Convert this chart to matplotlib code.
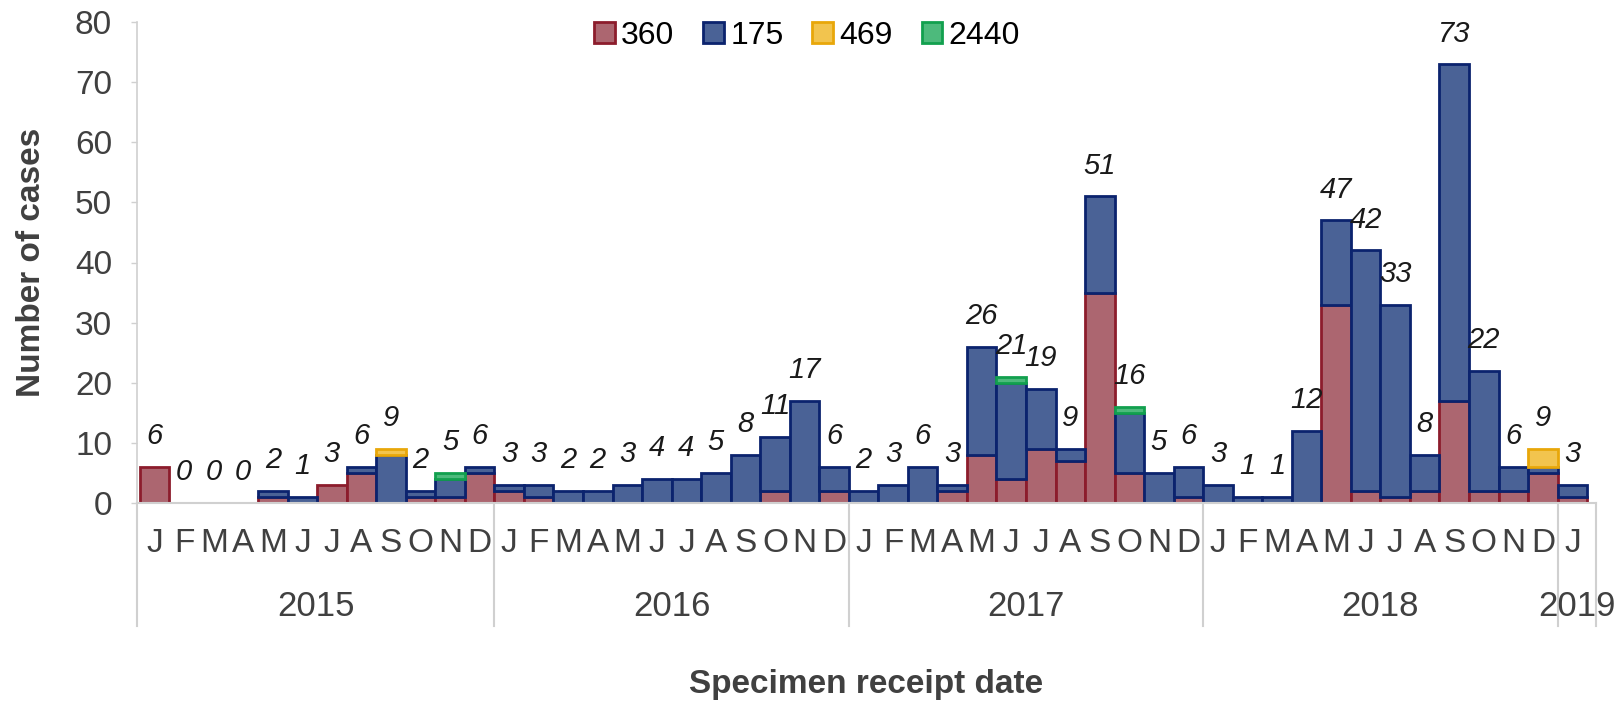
import matplotlib
matplotlib.use("Agg")
import matplotlib.pyplot as plt
import matplotlib.transforms as mtransforms
import numpy as np

plt.rcParams['font.family'] = ['Liberation Sans', 'DejaVu Sans']

# months Jan 2015 .. Jan 2019
months = list("JFMAMJJASOND") * 4 + ["J"]
years = ["2015", "2016", "2017", "2018", "2019"]

# cases per strain
s360 = [6, 0, 0, 0, 1, 0, 3, 5, 0, 1, 1, 5,
        2, 1, 0, 0, 0, 0, 0, 0, 0, 2, 0, 2,
        0, 0, 0, 2, 8, 4, 9, 7, 35, 5, 0, 1,
        0, 0, 0, 0, 33, 2, 1, 2, 17, 2, 2, 5,
        1]
s175 = [0, 0, 0, 0, 1, 1, 0, 1, 8, 1, 3, 1,
        1, 2, 2, 2, 3, 4, 4, 5, 8, 9, 17, 4,
        2, 3, 6, 1, 18, 16, 10, 2, 16, 10, 5, 5,
        3, 1, 1, 12, 14, 40, 32, 6, 56, 20, 4, 1,
        2]
s469 = [0, 0, 0, 0, 0, 0, 0, 0, 1, 0, 0, 0,
        0, 0, 0, 0, 0, 0, 0, 0, 0, 0, 0, 0,
        0, 0, 0, 0, 0, 0, 0, 0, 0, 0, 0, 0,
        0, 0, 0, 0, 0, 0, 0, 0, 0, 0, 0, 3,
        0]
s2440 = [0, 0, 0, 0, 0, 0, 0, 0, 0, 0, 1, 0,
         0, 0, 0, 0, 0, 0, 0, 0, 0, 0, 0, 0,
         0, 0, 0, 0, 0, 1, 0, 0, 0, 1, 0, 0,
         0, 0, 0, 0, 0, 0, 0, 0, 0, 0, 0, 0,
         0]

series = [
    ("360", s360, "#AC6670", "#8C1C2C"),
    ("175", s175, "#4A6296", "#0B236E"),
    ("469", s469, "#F2C44E", "#E8A70A"),
    ("2440", s2440, "#4DBA7C", "#12A04E"),
]

grey = "#D0D0D0"
txt = "#404040"

fig = plt.figure(figsize=(16.17, 7.02), dpi=100)
W, H = 1617, 702
ax_left, ax_right, ax_top, ax_bot = 137, 1596, 22, 503
ax = fig.add_axes([ax_left / W, 1 - ax_bot / H, (ax_right - ax_left) / W, (ax_bot - ax_top) / H])

x = np.arange(len(months))
bottom = np.zeros(len(months))
for name, vals, fc, ec in series:
    vals = np.array(vals, dtype=float)
    keep = vals > 0
    ax.bar(x[keep], vals[keep], width=1.0, bottom=bottom[keep], color=fc,
           edgecolor=ec, linewidth=2.0, label=name)
    bottom += vals

# totals above bars
for i, tot in enumerate(bottom):
    ax.annotate(f"{int(tot)}", (i, tot), xytext=(0, 22), textcoords="offset points",
                ha="center", va="center", fontsize=21, fontstyle="italic", color="#1a1a1a")

ax.set_xlim(-0.6, 48.8)
ax.set_ylim(0, 80)
ax.set_yticks(np.arange(0, 81, 10))
ax.tick_params(axis="y", labelsize=24, colors=txt, length=4, width=1, color=grey, pad=14)
ax.set_xticks(x)
ax.set_xticklabels(months)
ax.tick_params(axis="x", labelsize=24, colors=txt, length=0, pad=18)

for s in ["top", "right"]:
    ax.spines[s].set_visible(False)
ax.spines["left"].set_color(grey)
ax.spines["bottom"].set_color(grey)
ax.spines["left"].set_linewidth(1.2)
ax.spines["bottom"].set_linewidth(1.5)

# year separators and year labels
trans = mtransforms.blended_transform_factory(ax.transData, ax.transAxes)
drop = (626 - ax_bot) / (ax_bot - ax_top)
bounds = [-0.6, 11.5, 23.5, 35.5, 47.5, 48.8]
for b in bounds:
    ax.plot([b, b], [0, -drop], transform=trans, color=grey, lw=1.5, clip_on=False)
for k, yr in enumerate(years):
    ax.text((bounds[k] + bounds[k + 1]) / 2, -(607 - ax_bot) / (ax_bot - ax_top), yr,
            transform=trans, ha="center", va="center", fontsize=25, color=txt)

fig.text(31 / W, 1 - 262 / H, "Number of cases", rotation=90, ha="center", va="center",
         fontsize=24, fontweight="bold", color=txt)
fig.text(866 / W, 1 - 684 / H, "Specimen receipt date", ha="center", va="center",
         fontsize=24, fontweight="bold", color=txt)

fig.legend(loc="center", bbox_to_anchor=(807 / W, 1 - 36 / H), ncol=4, frameon=False,
           fontsize=23, handlelength=0.65, handleheight=0.65, handletextpad=0.2,
           columnspacing=0.9)

fig.savefig("out.png", dpi=100)
